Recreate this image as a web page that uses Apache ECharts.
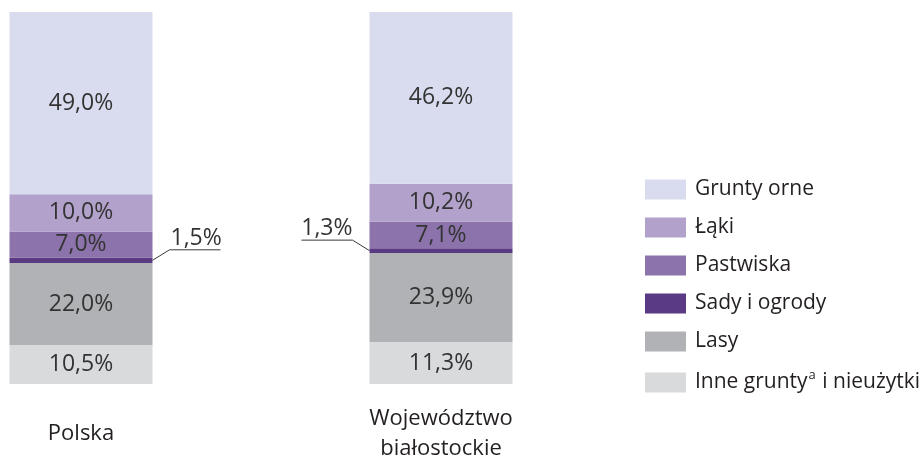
<!DOCTYPE html>
<html lang="pl">
<head>
    <meta charset="UTF-8">
    <script src="https://cdn.jsdelivr.net/npm/echarts@6.0.0/dist/echarts.min.js"></script>
    <title>Użytkowanie gruntów</title>
</head>
<body style="margin: 0; background: #fff">
<div id="container" style="width: 923px; height: 461px"></div>

<script>
    // dane (% powierzchni), od dołu słupka do góry
    var categories = ['Polska', 'Województwo\nbiałostockie'];
    var inne = [10.5, 11.3];
    var lasy = [22.0, 23.9];
    var sady = [1.5, 1.3];
    var pastwiska = [7.0, 7.1];
    var laki = [10.0, 10.2];
    var grunty = [49.0, 46.2];

    var names = ['Inne grunty i nieużytki', 'Lasy', 'Sady i ogrody', 'Pastwiska', 'Łąki', 'Grunty orne'];
    var colors = ['#d9dadc', '#b1b2b5', '#5b3a84', '#8c73ab', '#b2a1cb', '#d9dcee'];
    var values = [inne, lasy, sady, pastwiska, laki, grunty];

    var FONT = 'Open Sans';
    var BAR_W = 143;

    var dom = document.getElementById('container');
    var myChart = echarts.init(dom);

    function pct(v) {
        return v.toFixed(1).replace('.', ',') + '%';
    }

    var series = [];
    for (var s = 0; s < names.length; s++) {
        var data = values[s].map(function (v, i) {
            if (s !== 2) return v;
            // sady i ogrody - etykieta obok słupka
            return {
                value: v,
                label: i === 0
                    ? {position: 'right', distance: 0, offset: [18, -22]}
                    : {position: 'left', distance: 0, offset: [-17, -22]}
            };
        });
        series.push({
            name: names[s],
            type: 'bar',
            stack: 'all',
            barWidth: BAR_W,
            itemStyle: {color: colors[s]},
            label: {
                show: true,
                position: 'inside',
                fontFamily: FONT,
                fontSize: 23,
                color: '#333333',
                formatter: function (p) { return pct(p.value); }
            },
            emphasis: {disabled: true},
            data: data
        });
    }

    var option = {
        animation: false,
        grid: {left: -99, width: 720, top: 12, height: 372, outerBoundsMode: 'none', containLabel: false},
        xAxis: {
            type: 'category',
            data: categories,
            axisLine: {show: false},
            axisTick: {show: false},
            axisLabel: {
                margin: 50,
                verticalAlign: 'middle',
                fontFamily: FONT,
                fontSize: 22,
                lineHeight: 30,
                color: '#231f20'
            }
        },
        yAxis: {type: 'value', min: 0, max: 100, show: false},
        legend: {
            orient: 'vertical',
            left: 640,
            top: 174,
            itemWidth: 41,
            itemHeight: 20,
            itemGap: 17,
            icon: 'rect',
            data: ['Grunty orne', 'Łąki', 'Pastwiska', 'Sady i ogrody', 'Lasy', 'Inne grunty i nieużytki'],
            formatter: function (n) {
                if (n === 'Inne grunty i nieużytki') return 'Inne grunty{sup|a} i nieużytki';
                return n;
            },
            textStyle: {
                fontFamily: FONT,
                fontSize: 21,
                color: '#231f20',
                padding: [0, 0, 0, 4],
                rich: {
                    sup: {fontFamily: FONT, fontSize: 13, color: '#231f20', verticalAlign: 'top', padding: [0, 1, 14, 1]}
                }
            },
            selectedMode: false
        },
        series: series
    };

    myChart.setOption(option);

    // linie odnośników dla sadów
    var lines = [];
    for (var i = 0; i < categories.length; i++) {
        var mid = inne[i] + lasy[i] + sady[i] / 2;
        var p = myChart.convertToPixel({seriesIndex: 0}, [i, mid]);
        var dir = i === 0 ? 1 : -1;
        var x0 = p[0] + dir * BAR_W / 2;
        var y0 = p[1];
        lines.push({
            type: 'polyline',
            shape: {points: [[x0, y0], [x0 + dir * 17, y0 - 10.5], [x0 + dir * 68, y0 - 10.5]]},
            style: {stroke: '#3a3a3a', lineWidth: 1, fill: null}
        });
    }
    myChart.setOption({graphic: lines});
</script>
</body>
</html>
